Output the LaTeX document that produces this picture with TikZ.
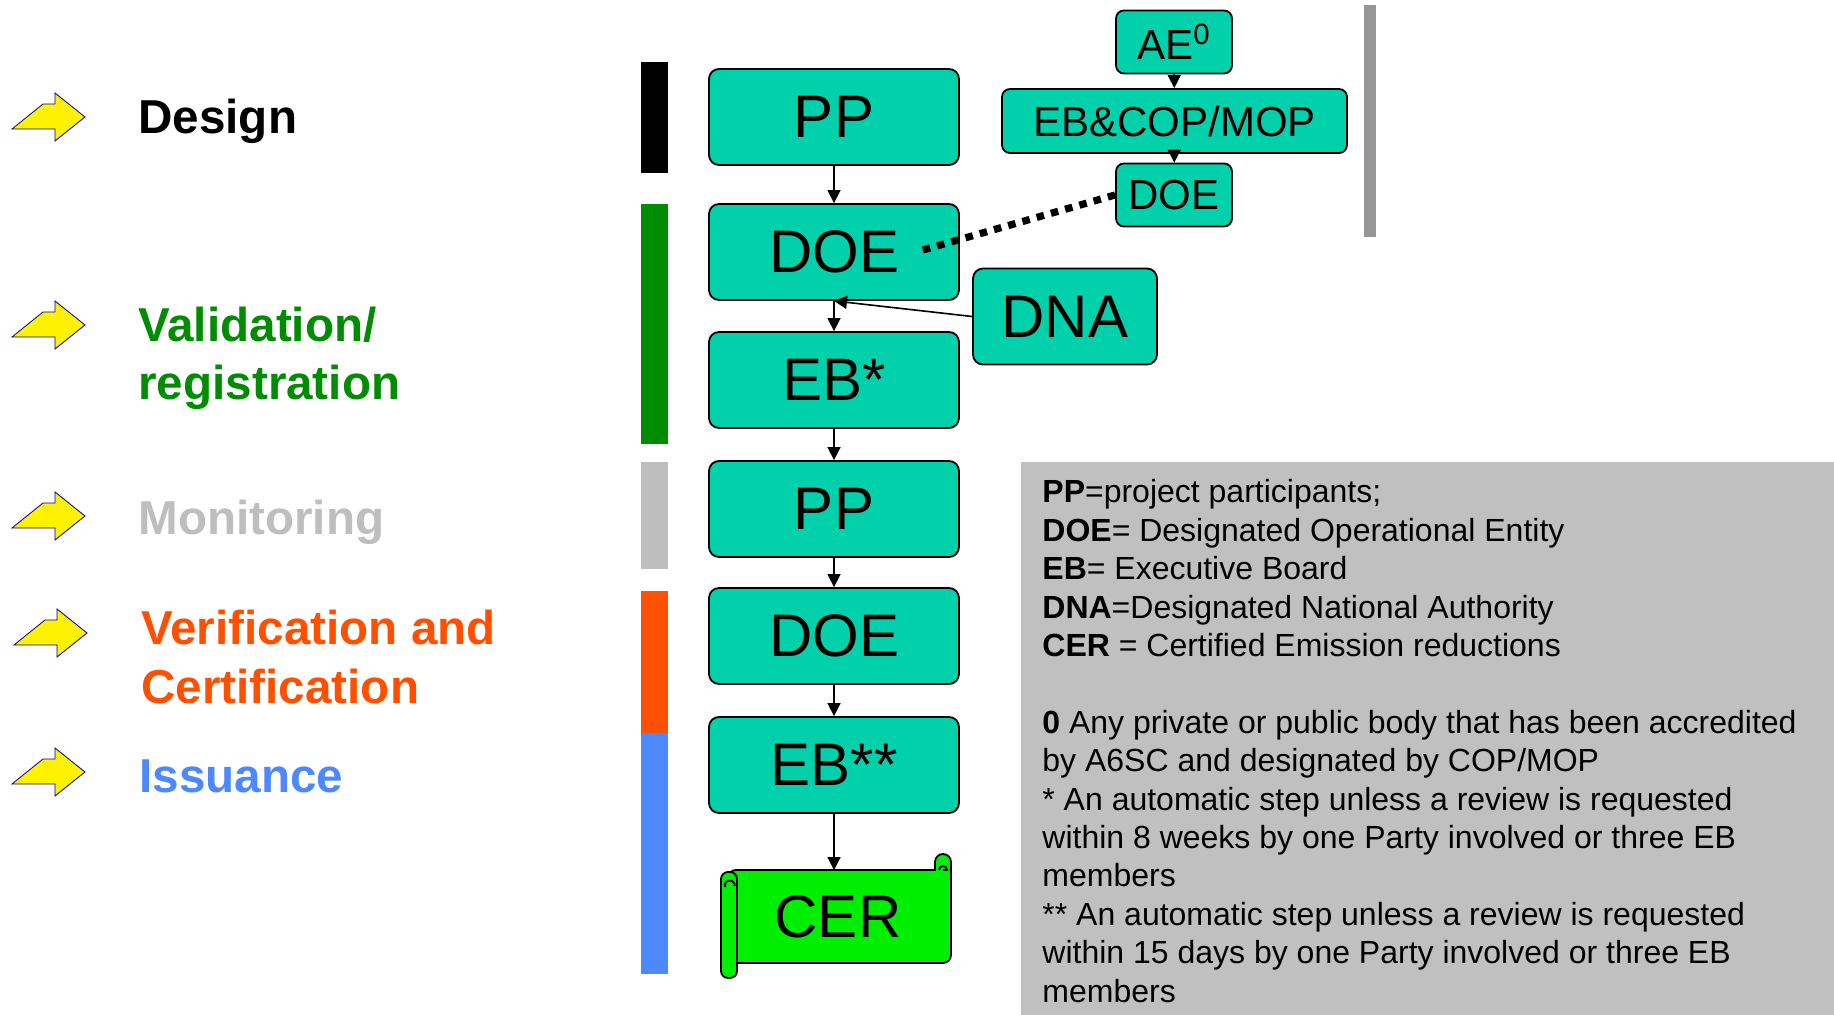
\documentclass[tikz,border=0pt]{standalone}
\usepackage{fontspec}
\setmainfont{Liberation Sans}
\usepackage{xcolor}
\usetikzlibrary{positioning, arrows.meta}

\definecolor{boxteal}{RGB}{0,209,170}
\definecolor{certgreen}{RGB}{0,238,0}
\definecolor{validgreen}{RGB}{0,140,0}
\definecolor{monitorgray}{RGB}{190,190,190}
\definecolor{verifyorange}{RGB}{255,80,0}
\definecolor{issueblue}{RGB}{77,136,255}
\definecolor{legendgray}{RGB}{192,192,192}
\definecolor{sidegray}{RGB}{150,150,150}

\tikzset{
  stagebox/.style={draw, line width=0.9pt, fill=boxteal, rounded corners=5pt, minimum width=125pt, minimum height=48pt, inner sep=0pt, font=\fontsize{30}{36}\selectfont},
  smallbox/.style={draw, line width=0.9pt, fill=boxteal, rounded corners=4pt, minimum width=58pt, minimum height=31.5pt, inner sep=0pt, font=\fontsize{21}{25}\selectfont},
  flow/.style={-{Triangle[length=6.5pt,width=6.5pt]}, line width=0.8pt},
  pointer/.style={fill=yellow, draw=blue!60!black, line width=0.4pt},
  phase/.style={anchor=base west, font=\fontsize{23.8}{29.25}\selectfont\bfseries, align=left, inner sep=0pt},
  scroll/.style={draw, fill=certgreen, line width=0.9pt},
}

\begin{document}
\begin{tikzpicture}[x=0.5pt, y=0.5pt]
\useasboundingbox (0,0) rectangle (1834,-1015);
% phases on the left
\draw [pointer, shift={(0,-117)}](12,-12)--(43,13)--(55,13)--(55,24)--(85,0)--(55,-24)--(55,-12)--cycle;
\draw [pointer, shift={(0,-325)}](12,-12)--(43,13)--(55,13)--(55,24)--(85,0)--(55,-24)--(55,-12)--cycle;
\draw [pointer, shift={(0,-516)}](12,-12)--(43,13)--(55,13)--(55,24)--(85,0)--(55,-24)--(55,-12)--cycle;
\draw [pointer, shift={(2,-633)}](12,-12)--(43,13)--(55,13)--(55,24)--(85,0)--(55,-24)--(55,-12)--cycle;
\draw [pointer, shift={(0,-772)}](12,-12)--(43,13)--(55,13)--(55,24)--(85,0)--(55,-24)--(55,-12)--cycle;
% base of a two-line label is its last line
\node [phase] (design) at (138,-134) {Design};
\node [phase, text=validgreen] (validation) at (138,-400) {Validation/\\registration};
\node [phase, text=monitorgray] (monitoring) at (138,-534) {Monitoring};
\node [phase, text=verifyorange] (verification) at (141,-703) {Verification and\\Certification};
\node [phase, text=issueblue] (issuance) at (139,-792) {Issuance};
% colour bars
\fill [black] (641,-62) rectangle (668,-173);
\fill [validgreen] (641,-204) rectangle (668,-444);
\fill [monitorgray] (641,-462) rectangle (668,-569);
\fill [verifyorange] (641,-591) rectangle (668,-733);
\fill [issueblue] (641,-733) rectangle (668,-974);
\fill [sidegray] (1364,-5) rectangle (1376,-237);
% main chain
\node [stagebox] (pp1) at (834,-117) {PP};
\node [stagebox] (doe1) at (834,-252) {DOE};
\node [stagebox] (eb1) at (834,-380) {EB*};
\node [stagebox] (pp2) at (834,-509) {PP};
\node [stagebox] (doe2) at (834,-636) {DOE};
\node [stagebox] (eb2) at (834,-765) {EB**};
\node [stagebox, minimum width=92pt] (dna) at (1065,-316.5) {DNA};
% accreditation
\node [smallbox] (ae) at (1174,-42) {AE\textsuperscript{0}};
\node [smallbox, minimum width=172.5pt, minimum height=32pt] (ebcop) at (1174.5,-121) {EB\&COP/MOP};
\node [smallbox] (doe0) at (1174,-195) {DOE};
% certificate scroll
\draw [scroll] (728,-870)--(935,-870)--(935,-862) arc[start angle=180, end angle=0, radius=8] [rounded corners=4pt]--(951,-963)--(728,-963)--cycle;
\draw [line width=0.9pt] (939,-870) arc[start angle=180, end angle=0, radius=4]--(943,-870);
\draw [scroll, rounded corners=3.5pt] (721,-872) rectangle (737,-978);
\draw [line width=0.9pt] (725,-887) arc[start angle=200, end angle=-10, radius=5];
\node [minimum width=115pt, minimum height=46.5pt, inner sep=0pt, font=\fontsize{30}{36}\selectfont] (cer) at (838,-917) {CER};
% connectors
\draw [flow] (ae)--(ebcop);
\draw [flow] (ebcop)--(doe0);
\draw [flow] (pp1)--(doe1);
\draw [flow] (doe1)--(eb1);
\draw [flow] (eb1)--(pp2);
\draw [flow] (pp2)--(doe2);
\draw [flow] (doe2)--(eb2);
\draw [flow] (eb2.south)--(eb2.south |- cer.north);
\draw [flow] (dna.west)--(doe1.south);
\coordinate (doetail) at (916,-252);
\draw [line width=3.6pt, dash pattern=on 3.8pt off 3.6pt] (doe0.west)--(doetail);
% legend
\fill [legendgray] (1021,-462) rectangle (1834,-1015);
\node [anchor=base west, align=left, inner sep=0pt, font=\fontsize{16}{19.2}\selectfont] (legend) at (1042,-1002) {\textbf{PP}=project participants;\\
\textbf{DOE}= Designated Operational Entity\\
\textbf{EB}= Executive Board\\
\textbf{DNA}=Designated National Authority\\
\textbf{CER} = Certified Emission reductions\\[19.2pt]
\textbf{0} Any private or public body that has been accredited\\
by A6SC and designated by COP/MOP\\
* An automatic step unless a review is requested\\
within 8 weeks by one Party involved or three EB\\
members\\
** An automatic step unless a review is requested\\
within 15 days by one Party involved or three EB\\
members};
\end{tikzpicture}
\end{document}
